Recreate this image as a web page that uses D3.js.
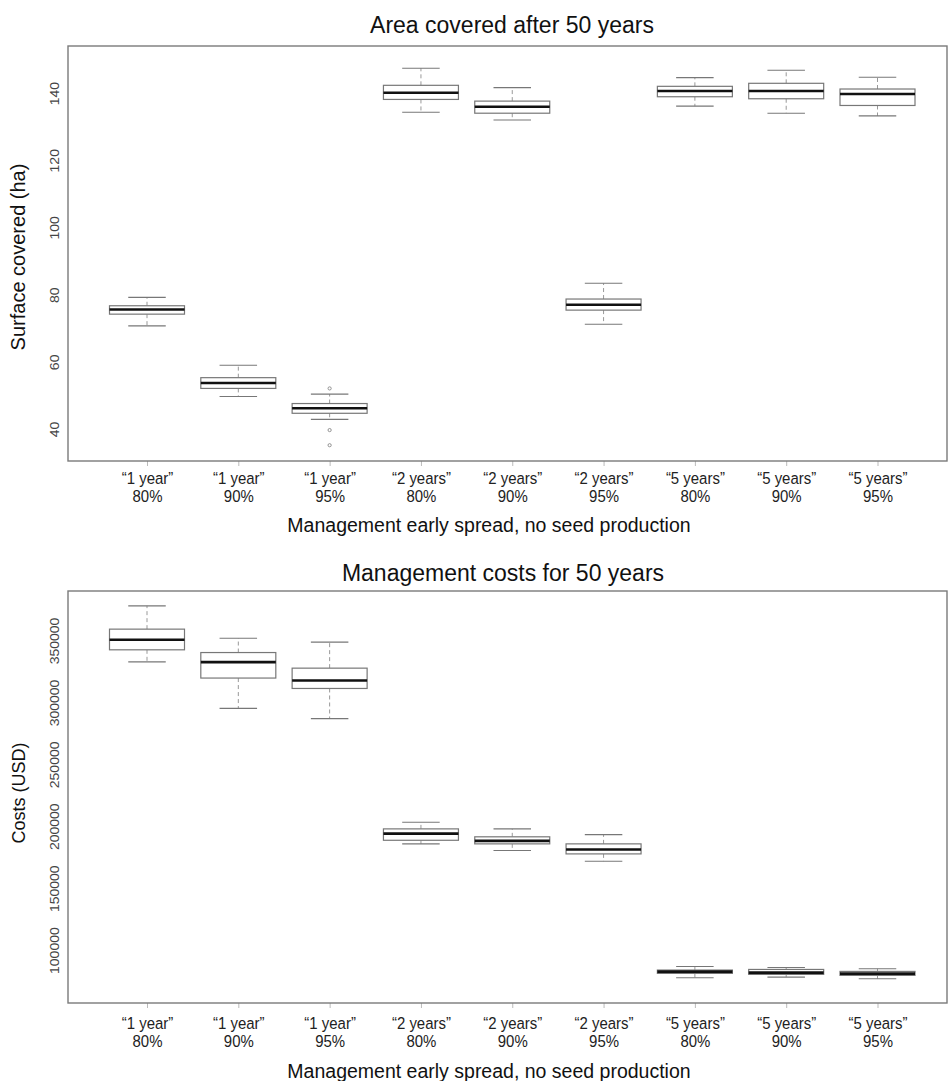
<!DOCTYPE html>
<html>
<head>
<meta charset="utf-8">
<script src="https://cdn.jsdelivr.net/npm/d3@7/dist/d3.min.js"></script>
<style>
  html, body { margin: 0; padding: 0; background: #fff; }
  svg { display: block; font-family: "Liberation Sans", Arial, Helvetica, sans-serif; }
</style>
</head>
<body>
<svg id="chart" width="949" height="1081"></svg>
<script>
// Scenario categories (management schedule and removal efficiency)
const schedules = ["“1 year”", "“1 year”", "“1 year”", "“2 years”", "“2 years”", "“2 years”", "“5 years”", "“5 years”", "“5 years”"];
const levels = ["80%", "90%", "95%", "80%", "90%", "95%", "80%", "90%", "95%"];

// Area covered after 50 years (ha): box-plot statistics per scenario
const areaLow    = [70.7, 49.7, 42.9, 134.3, 132.0, 71.2, 136.1, 134.0, 133.2];
const areaQ1     = [74.2, 52.1, 44.7, 138.1, 134.0, 75.4, 138.9, 138.3, 136.3];
const areaMedian = [75.6, 53.7, 46.2, 140.1, 135.9, 77.0, 140.6, 140.6, 139.7];
const areaQ3     = [76.7, 55.3, 47.6, 142.3, 137.6, 78.7, 142.0, 142.9, 141.2];
const areaHigh   = [79.2, 59.0, 50.4, 147.4, 141.6, 83.4, 144.6, 146.8, 144.7];
const areaOutliers = [[], [], [52.1, 39.7, 35.2], [], [], [], [], [], []];
const areaTicks = [40, 60, 80, 100, 120, 140];

// Management costs for 50 years (USD)
const costLow    = [332800, 295200, 286900, 185800, 180400, 171800, 77700, 78200, 76900];
const costQ1     = [342500, 319700, 311300, 188700, 185800, 177700, 81200, 80400, 79600];
const costMedian = [350600, 332600, 317700, 194100, 188200, 181200, 82600, 81800, 81000];
const costQ3     = [359200, 340300, 327700, 197900, 191500, 185800, 83900, 84400, 82800];
const costHigh   = [378000, 351900, 348700, 203200, 197900, 193300, 86800, 86000, 85000];
const costOutliers = [[], [], [], [], [], [], [], [], []];
const costTicks = [100000, 150000, 200000, 250000, 300000, 350000];

const svg = d3.select("#chart");
const keys = d3.range(schedules.length);

function buildRows(low, q1, med, q3, high, outl) {
  return keys.map(i => ({ i, low: low[i], q1: q1[i], med: med[i], q3: q3[i], high: high[i], out: outl[i] }));
}

function drawPanel(opt) {
  const g = svg.append("g");
  const { left, right, top, bottom } = opt.frame;

  const x = d3.scalePoint().domain(keys).range([147, 877.5]);
  const y = d3.scaleLinear().domain(opt.yDomain).range([bottom, top]);
  const boxW = 75;
  const capW = boxW * 0.5;

  // title
  g.append("text")
    .attr("x", opt.titleX).attr("y", opt.titleY)
    .attr("text-anchor", "middle")
    .attr("font-size", 23).attr("fill", "#111")
    .text(opt.title);

  // y axis (labels parallel to the axis)
  const yAxis = g.append("g")
    .attr("transform", `translate(${left},0)`)
    .call(d3.axisLeft(y).tickValues(opt.yTicks).tickSize(0).tickFormat(d3.format("d")));
  yAxis.select(".domain").remove();
  yAxis.selectAll("text")
    .attr("x", null).attr("dy", null)
    .attr("transform", "translate(-9,0) rotate(-90) scale(1,0.9)")
    .attr("text-anchor", "middle")
    .attr("font-size", 14)
    .attr("font-family", "'Liberation Sans', Arial, sans-serif")
    .attr("fill", "#444");

  // x axis with two-line category labels
  const xAxis = g.append("g")
    .attr("transform", `translate(0,${bottom})`)
    .call(d3.axisBottom(x).tickSize(5).tickFormat(() => ""));
  xAxis.select(".domain").remove();
  xAxis.selectAll(".tick line").attr("stroke", "#bbb");
  xAxis.selectAll(".tick text").remove();
  const lab = xAxis.selectAll(".tick").append("text")
    .attr("transform", "scale(0.88,1)")
    .attr("text-anchor", "middle")
    .attr("font-size", 17)
    .attr("fill", "#222")
    .attr("font-family", "'Liberation Sans', Arial, sans-serif");
  lab.append("tspan").attr("x", 0).attr("y", opt.lab1).text(d => schedules[d]);
  lab.append("tspan").attr("x", 0).attr("y", opt.lab2).text(d => levels[d]);

  // axis titles
  g.append("text")
    .attr("x", 489).attr("y", opt.xTitleY)
    .attr("text-anchor", "middle")
    .attr("font-size", 19.5).attr("fill", "#111")
    .text("Management early spread, no seed production");
  g.append("text")
    .attr("transform", `translate(${opt.yTitleX},${opt.yTitleY}) rotate(-90)`)
    .attr("text-anchor", "middle")
    .attr("font-size", opt.yTitleSize).attr("fill", "#111")
    .text(opt.yTitle);

  // frame
  g.append("rect")
    .attr("x", left).attr("y", top)
    .attr("width", right - left).attr("height", bottom - top)
    .attr("fill", "none").attr("stroke", "#7a7a7a").attr("stroke-width", 1.4);

  // boxes
  const boxes = g.append("g").selectAll("g").data(opt.rows).join("g")
    .attr("transform", d => `translate(${x(d.i)},0)`);

  boxes.append("line")
    .attr("x1", 0).attr("x2", 0)
    .attr("y1", d => y(d.q3)).attr("y2", d => y(d.high))
    .attr("stroke", "#999").attr("stroke-width", 1).attr("stroke-dasharray", "4,3");
  boxes.append("line")
    .attr("x1", 0).attr("x2", 0)
    .attr("y1", d => y(d.q1)).attr("y2", d => y(d.low))
    .attr("stroke", "#999").attr("stroke-width", 1).attr("stroke-dasharray", "4,3");
  boxes.append("line")
    .attr("x1", -capW / 2).attr("x2", capW / 2)
    .attr("y1", d => y(d.high)).attr("y2", d => y(d.high))
    .attr("stroke", "#777").attr("stroke-width", 1.1);
  boxes.append("line")
    .attr("x1", -capW / 2).attr("x2", capW / 2)
    .attr("y1", d => y(d.low)).attr("y2", d => y(d.low))
    .attr("stroke", "#777").attr("stroke-width", 1.1);
  boxes.append("rect")
    .attr("x", -boxW / 2).attr("width", boxW)
    .attr("y", d => y(d.q3)).attr("height", d => y(d.q1) - y(d.q3))
    .attr("fill", "#fff").attr("stroke", "#777").attr("stroke-width", 1.2);
  boxes.append("line")
    .attr("x1", -boxW / 2).attr("x2", boxW / 2)
    .attr("y1", d => y(d.med)).attr("y2", d => y(d.med))
    .attr("stroke", "#111").attr("stroke-width", 2.6);
  boxes.selectAll("circle").data(d => d.out).join("circle")
    .attr("cx", 0).attr("cy", v => y(v)).attr("r", 1.6)
    .attr("fill", "none").attr("stroke", "#888").attr("stroke-width", 0.9);
}

drawPanel({
  title: "Area covered after 50 years", titleX: 512, titleY: 33,
  frame: { left: 68, right: 947, top: 46, bottom: 461 },
  yDomain: [30.5, 154], yTicks: areaTicks,
  yTitle: "Surface covered (ha)", yTitleX: 25, yTitleY: 257, yTitleSize: 20,
  lab1: 23, lab2: 41, xTitleY: 532,
  rows: buildRows(areaLow, areaQ1, areaMedian, areaQ3, areaHigh, areaOutliers)
});

drawPanel({
  title: "Management costs for 50 years", titleX: 503, titleY: 581,
  frame: { left: 68, right: 947, top: 591, bottom: 1003 },
  yDomain: [57300, 390000], yTicks: costTicks,
  yTitle: "Costs (USD)", yTitleX: 25, yTitleY: 793, yTitleSize: 18,
  lab1: 26, lab2: 44, xTitleY: 1078,
  rows: buildRows(costLow, costQ1, costMedian, costQ3, costHigh, costOutliers)
});
</script>
</body>
</html>
